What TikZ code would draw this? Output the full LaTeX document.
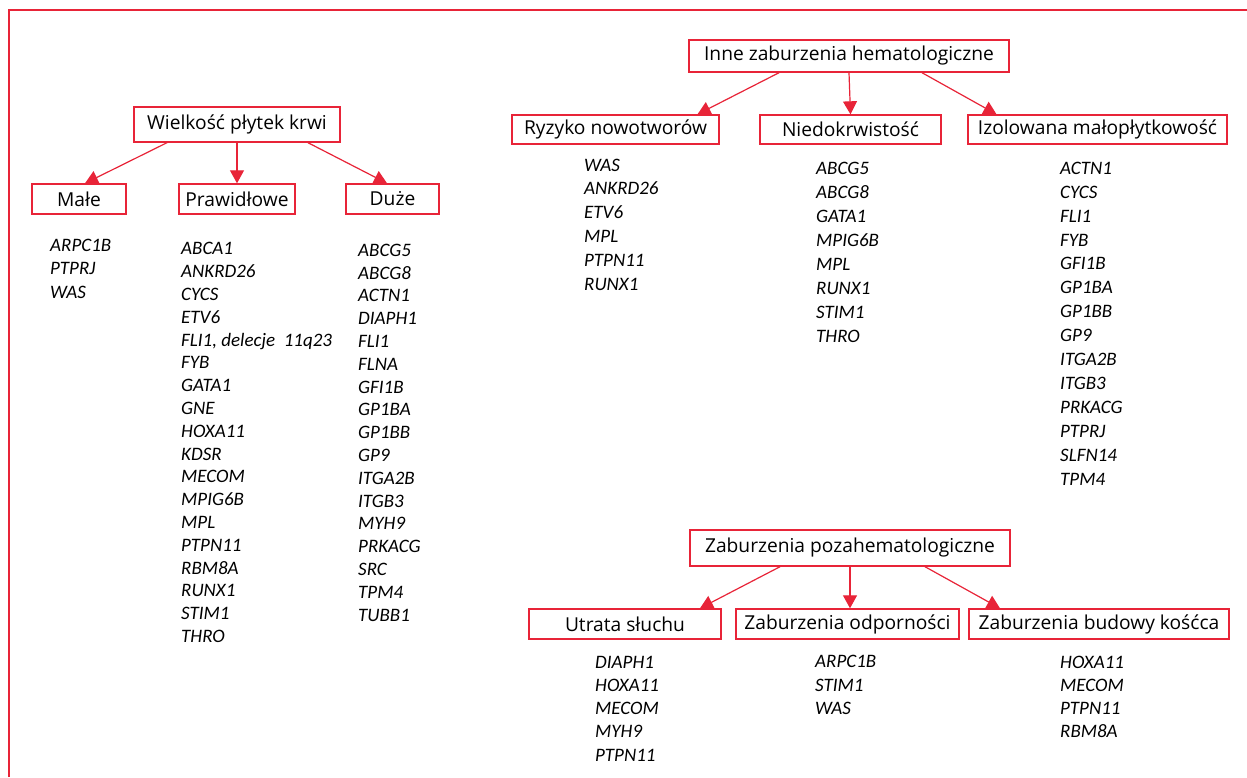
\documentclass[tikz,border=0pt]{standalone}
\usepackage{fontspec}
\setmainfont{Open Sans}
\newfontfamily\genefont{Carlito}
\usetikzlibrary{arrows.meta}
\definecolor{fr}{RGB}{232,36,56}
\begin{document}
\begin{tikzpicture}[x=1pt,y=-1pt,
  box/.style={draw=fr,line width=1.4pt,inner sep=0pt,font=\fontsize{19.2}{19.2}\selectfont},
  arr/.style={draw=fr,line width=1.2pt,-{Triangle[length=13pt,width=14pt]}},
  genes/.style={anchor=west,align=left,inner sep=0pt,font=\genefont\itshape\fontsize{19}{#1}\selectfont},
  frame/.style={draw=fr,line width=1.4pt}]
\useasboundingbox (0,0) rectangle (1247,777);
\fill[white] (0,0) rectangle (1247,777);
\coordinate (fa) at (9,777);
\coordinate (fb) at (9,10);
\coordinate (fc) at (1247,10);
\draw[frame] (fa) -- (fb) -- (fc);

% Left tree
\node[box,minimum width=206pt,minimum height=35pt] (wiel) at (237,124.5) {Wielkość płytek krwi};
\node[box,minimum width=94pt,minimum height=30pt] (male) at (79,199) {Małe};
\node[box,minimum width=116pt,minimum height=30pt] (praw) at (237,199) {Prawidłowe};
\node[box,minimum width=93pt,minimum height=30pt] (duze) at (392.5,199) {Duże};
\draw[arr] ([xshift=-70pt]wiel.south) -- ([xshift=6pt]male.north);
\draw[arr] (wiel.south) -- (praw.north);
\draw[arr] ([xshift=71pt]wiel.south) -- ([xshift=-5.5pt]duze.north);

\node[genes=23.5] (gmale) at (50,268.5) {ARPC1B\\PTPRJ\\WAS};
\node[genes=22.8] (gpraw) at (181,442.5) {ABCA1\\ANKRD26\\CYCS\\ETV6\\FLI1, delecje\ \ 11q23\\FYB\\GATA1\\GNE\\HOXA11\\KDSR\\MECOM\\MPIG6B\\MPL\\PTPN11\\RBM8A\\RUNX1\\STIM1\\THRO};
\node[genes=22.8] (gduze) at (358,432.5) {ABCG5\\ABCG8\\ACTN1\\DIAPH1\\FLI1\\FLNA\\GFI1B\\GP1BA\\GP1BB\\GP9\\ITGA2B\\ITGB3\\MYH9\\PRKACG\\SRC\\TPM4\\TUBB1};

% Upper right tree
\node[box,minimum width=320pt,minimum height=32pt] (inne) at (849,56) {Inne zaburzenia hematologiczne};
\node[box,minimum width=207pt,minimum height=29pt] (ryz) at (615.5,129.5) {Ryzyko nowotworów};
\node[box,minimum width=181pt,minimum height=29pt] (nied) at (850.5,129.5) {Niedokrwistość};
\node[box,minimum width=259pt,minimum height=29pt] (izol) at (1097.5,129.5) {Izolowana małopłytkowość};
\draw[arr] ([xshift=-70pt]inne.south) -- ([xshift=82pt]ryz.north);
\draw[arr] (inne.south) -- (nied.north);
\draw[arr] ([xshift=73pt]inne.south) -- ([xshift=-101pt]izol.north);

\node[genes=23.8] (gryz) at (584,224.5) {WAS\\ANKRD26\\ETV6\\MPL\\PTPN11\\RUNX1};
\node[genes=23.9] (gnied) at (816,252.5) {ABCG5\\ABCG8\\GATA1\\MPIG6B\\MPL\\RUNX1\\STIM1\\THRO};
\node[genes=23.9] (gizol) at (1060,323.5) {ACTN1\\CYCS\\FLI1\\FYB\\GFI1B\\GP1BA\\GP1BB\\GP9\\ITGA2B\\ITGB3\\PRKACG\\PTPRJ\\SLFN14\\TPM4};

% Lower right tree
\node[box,minimum width=320pt,minimum height=36pt] (poza) at (850,548) {Zaburzenia pozahematologiczne};
\node[box,minimum width=192pt,minimum height=30pt] (utr) at (625,624) {Utrata słuchu};
\node[box,minimum width=223pt,minimum height=30pt] (odp) at (847.5,624) {Zaburzenia odporności};
\node[box,minimum width=260pt,minimum height=30pt] (bud) at (1099,624) {Zaburzenia budowy kośćca};
\draw[arr] ([xshift=-70pt]poza.south) -- ([xshift=75pt]utr.north);
\draw[arr] (poza.south) -- ([xshift=2.5pt]odp.north);
\draw[arr] ([xshift=75pt]poza.south) -- ([xshift=-99pt]bud.north);

\node[genes=23.25] (gutr) at (595,708.5) {DIAPH1\\HOXA11\\MECOM\\MYH9\\PTPN11};
\node[genes=23.25] (godp) at (815,685) {ARPC1B\\STIM1\\WAS};
\node[genes=23.0] (gbud) at (1060,696.5) {HOXA11\\MECOM\\PTPN11\\RBM8A};
\end{tikzpicture}
\end{document}
